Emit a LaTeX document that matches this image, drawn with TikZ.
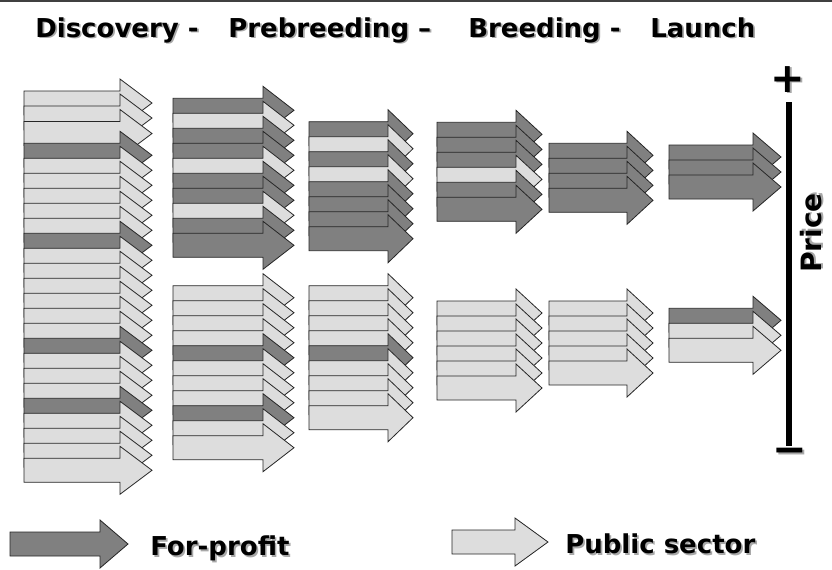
\documentclass[tikz,border=0pt]{standalone}
\usepackage{fontspec}
\setmainfont{DejaVu Sans}
\definecolor{profit}{HTML}{808080}
\definecolor{public}{HTML}{DDDDDD}
\definecolor{shade}{HTML}{A8A8A8}

% block arrow: left x, shaft top, shaft length, head length, fill
\newcommand{\blockarrow}[5]{%
  \draw[arrowline, fill=#5] (#1,#2) -- ({#1+#3},#2) -- ({#1+#3},{#2-12})
    -- ({#1+#3+#4},{#2+12}) -- ({#1+#3},{#2+36}) -- ({#1+#3},{#2+24})
    -- (#1,{#2+24}) -- cycle;}
\newcommand{\shtext}[1]{\rlap{\kern1.3pt\raisebox{-1.3pt}{\color{shade}#1}}#1}

\begin{document}
\begin{tikzpicture}[x=0.75pt, y=-0.75pt]
\tikzset{arrowline/.style={draw=black!85, line width=0.6pt},
         phase/.style={font=\fontsize{19.5}{23}\selectfont\bfseries, inner sep=0pt},
         sign/.style={font=\fontsize{31}{34}\selectfont\bfseries, inner sep=0pt},
         scalebar/.style={line width=4.5pt}}
\useasboundingbox (0,0) rectangle (832,569);
\draw[black!75, line width=1.2pt] (0,0.8) -- (832,0.8);

% phases
\node[phase, anchor=base west] (disc) at (35,37) {\shtext{Discovery -}};
\node[phase, anchor=base west] (preb) at (228,37) {\shtext{Prebreeding –}};
\node[phase, anchor=base west] (breed) at (468,37) {\shtext{Breeding -}};
\node[phase, anchor=base west] (launch) at (650,37) {\shtext{Launch}};

% column 1
\foreach \t in {91,106,121.5} {\blockarrow{24}{\t}{96}{32}{public}}
\foreach \c [count=\i from 0] in {profit,public,public,public,public,public,
    profit,public,public,public,public,public,public,profit,public,public,
    public,profit,public,public,public,public}
  {\pgfmathsetmacro\t{143.3+15*\i}\blockarrow{24}{\t}{96}{32}{\c}}

% column 2
\foreach \c [count=\i from 0] in {profit,public,profit,profit,public,profit,
    profit,public,profit,profit}
  {\pgfmathsetmacro\t{98.3+15*\i}\blockarrow{173}{\t}{90}{31}{\c}}
\foreach \c [count=\i from 0] in {public,public,public,public,profit,public,
    public,public,profit,public,public}
  {\pgfmathsetmacro\t{285.7+15*\i}\blockarrow{173}{\t}{90}{31}{\c}}

% column 3
\foreach \c [count=\i from 0] in {profit,public,profit,public,profit,profit,
    profit,profit}
  {\pgfmathsetmacro\t{121.7+15*\i}\blockarrow{309}{\t}{79}{25}{\c}}
\foreach \c [count=\i from 0] in {public,public,public,public,profit,public,
    public,public,public}
  {\pgfmathsetmacro\t{285.7+15*\i}\blockarrow{309}{\t}{79}{25}{\c}}

% column 4
\foreach \c [count=\i from 0] in {profit,profit,profit,public,profit,profit}
  {\pgfmathsetmacro\t{122.3+15*\i}\blockarrow{437}{\t}{79}{26}{\c}}
\foreach \i in {0,...,5}
  {\pgfmathsetmacro\t{301+15*\i}\blockarrow{437}{\t}{79}{26}{public}}

% column 5
\foreach \i in {0,...,3}
  {\pgfmathsetmacro\t{143.3+15*\i}\blockarrow{549}{\t}{78}{26}{profit}}
\foreach \i in {0,...,4}
  {\pgfmathsetmacro\t{301+15*\i}\blockarrow{549}{\t}{78}{26}{public}}

% column 6
\foreach \i in {0,...,2}
  {\pgfmathsetmacro\t{145+15*\i}\blockarrow{669}{\t}{84}{28}{profit}}
\foreach \c [count=\i from 0] in {profit,public,public}
  {\pgfmathsetmacro\t{308.3+15*\i}\blockarrow{669}{\t}{84}{28}{\c}}

% price scale
\node[sign] (plus) at (788,80) {\shtext{+}};
\node[sign] (minus) at (790,457) {\shtext{−}};
\coordinate (bartop) at (789,102);
\coordinate (barbot) at (789,446);
\draw[scalebar] (bartop) -- (barbot);
\node[phase, font=\fontsize{21}{25}\selectfont\bfseries, rotate=90] (price) at (812,233) {\shtext{Price}};

% legend
\blockarrow{10}{532}{90}{28}{profit}
\node[phase, anchor=west] (forprofit) at (150,549) {\shtext{For-profit}};
\blockarrow{452}{530}{63}{33}{public}
\node[phase, anchor=west] (pubsector) at (565,545) {\shtext{Public sector}};
\end{tikzpicture}
\end{document}
